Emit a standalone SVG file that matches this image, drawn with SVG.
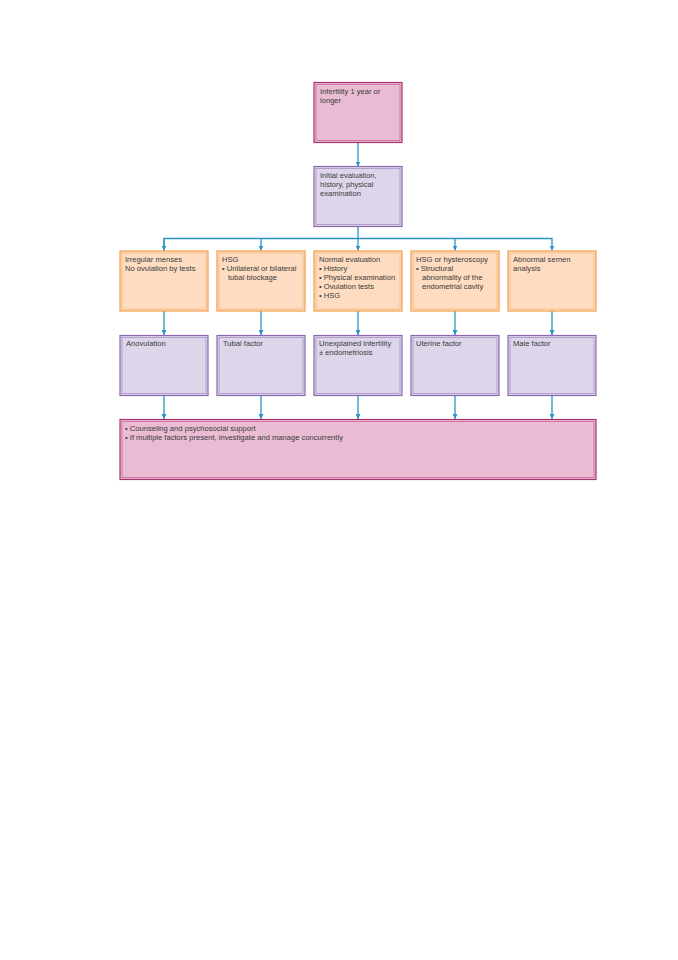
<svg xmlns="http://www.w3.org/2000/svg" width="678" height="960" viewBox="0 0 678 960">
<defs>
<style>
text{font-family:"Liberation Sans",Arial,sans-serif;font-size:7.6px;fill:#3a3a3a}
.pk .o{fill:#e9bcd3;stroke:#a8326d;stroke-width:1.2}
.pk .i{fill:none;stroke:#c8679a;stroke-width:0.8}
.pu .o{fill:#ddd6ea;stroke:#8b68ad;stroke-width:1.2}
.pu .i{fill:none;stroke:#ab92c8;stroke-width:0.8}
.or .o{fill:#fddcc1;stroke:#f39d4c;stroke-width:1.2}
.or .i{fill:none;stroke:#f7b97e;stroke-width:0.8}
.c{fill:none;stroke:#2c93c6;stroke-width:1.3}
</style>
<marker id="ah" viewBox="0 0 10 10" refX="10" refY="5" markerWidth="5" markerHeight="5" orient="auto" markerUnits="userSpaceOnUse">
<path d="M0,0 L10,5 L0,10 z" fill="#2c93c6"/>
</marker>
</defs>
<rect width="678" height="960" fill="#ffffff"/>
<g id="connectors">
<path class="c" d="M358,142.5 V166.5" marker-end="url(#ah)"/>
<path class="c" d="M358,226.5 V250.5" marker-end="url(#ah)"/>
<path class="c" d="M164,250.5 V238.5 H552 V250.5" marker-end="url(#ah)"/>
<path class="c" d="M164,238.5 V250.5" marker-end="url(#ah)"/>
<path class="c" d="M261,238.5 V250.5" marker-end="url(#ah)"/>
<path class="c" d="M455,238.5 V250.5" marker-end="url(#ah)"/>
<path class="c" d="M164,311 V335" marker-end="url(#ah)"/>
<path class="c" d="M261,311 V335" marker-end="url(#ah)"/>
<path class="c" d="M358,311 V335" marker-end="url(#ah)"/>
<path class="c" d="M455,311 V335" marker-end="url(#ah)"/>
<path class="c" d="M552,311 V335" marker-end="url(#ah)"/>
<path class="c" d="M164,395 V419" marker-end="url(#ah)"/>
<path class="c" d="M261,395 V419" marker-end="url(#ah)"/>
<path class="c" d="M358,395 V419" marker-end="url(#ah)"/>
<path class="c" d="M455,395 V419" marker-end="url(#ah)"/>
<path class="c" d="M552,395 V419" marker-end="url(#ah)"/>
</g>
<g id="n-infertility" class="pk">
<rect class="o" x="314" y="82.5" width="88" height="60"/>
<rect class="i" x="316" y="84.5" width="84" height="56"/>
<text x="320" y="93.5">Infertility 1 year or</text>
<text x="320" y="102.5">longer</text>
</g>
<g id="n-initial" class="pu">
<rect class="o" x="314" y="166.5" width="88" height="60"/>
<rect class="i" x="316" y="168.5" width="84" height="56"/>
<text x="320" y="178">Initial evaluation,</text>
<text x="320" y="187">history, physical</text>
<text x="320" y="196">examination</text>
</g>
<g id="n-irregular" class="or">
<rect class="o" x="120" y="251" width="88" height="60"/>
<rect class="i" x="122" y="253" width="84" height="56"/>
<text x="125" y="262">Irregular menses</text>
<text x="125" y="271">No ovulation by tests</text>
</g>
<g id="n-hsg" class="or">
<rect class="o" x="217" y="251" width="88" height="60"/>
<rect class="i" x="219" y="253" width="84" height="56"/>
<text x="222" y="262">HSG</text>
<text x="222" y="271">• Unilateral or bilateral</text>
<text x="228" y="280">tubal blockage</text>
</g>
<g id="n-normal" class="or">
<rect class="o" x="314" y="251" width="88" height="60"/>
<rect class="i" x="316" y="253" width="84" height="56"/>
<text x="319" y="262">Normal evaluation</text>
<text x="319" y="271">• History</text>
<text x="319" y="280">• Physical examination</text>
<text x="319" y="289">• Ovulation tests</text>
<text x="319" y="298">• HSG</text>
</g>
<g id="n-hysteroscopy" class="or">
<rect class="o" x="411" y="251" width="88" height="60"/>
<rect class="i" x="413" y="253" width="84" height="56"/>
<text x="416" y="262">HSG or hysteroscopy</text>
<text x="416" y="271">• Structural</text>
<text x="422" y="280">abnormality of the</text>
<text x="422" y="289">endometrial cavity</text>
</g>
<g id="n-semen" class="or">
<rect class="o" x="508" y="251" width="88" height="60"/>
<rect class="i" x="510" y="253" width="84" height="56"/>
<text x="513" y="262">Abnormal semen</text>
<text x="513" y="271">analysis</text>
</g>
<g id="n-anovulation" class="pu">
<rect class="o" x="120" y="335.5" width="88" height="60"/>
<rect class="i" x="122" y="337.5" width="84" height="56"/>
<text x="126" y="346">Anovulation</text>
</g>
<g id="n-tubal" class="pu">
<rect class="o" x="217" y="335.5" width="88" height="60"/>
<rect class="i" x="219" y="337.5" width="84" height="56"/>
<text x="223" y="346">Tubal factor</text>
</g>
<g id="n-unexplained" class="pu">
<rect class="o" x="314" y="335.5" width="88" height="60"/>
<rect class="i" x="316" y="337.5" width="84" height="56"/>
<text x="319" y="346">Unexplained infertility</text>
<text x="319" y="355">± endometriosis</text>
</g>
<g id="n-uterine" class="pu">
<rect class="o" x="411" y="335.5" width="88" height="60"/>
<rect class="i" x="413" y="337.5" width="84" height="56"/>
<text x="416" y="346">Uterine factor</text>
</g>
<g id="n-male" class="pu">
<rect class="o" x="508" y="335.5" width="88" height="60"/>
<rect class="i" x="510" y="337.5" width="84" height="56"/>
<text x="513" y="346">Male factor</text>
</g>
<g id="n-counseling" class="pk">
<rect class="o" x="120" y="419.5" width="476" height="60"/>
<rect class="i" x="122" y="421.5" width="472" height="56"/>
<text x="125" y="430.5">• Counseling and psychosocial support</text>
<text x="125" y="439.5">• If multiple factors present, investigate and manage concurrently</text>
</g>
</svg>
